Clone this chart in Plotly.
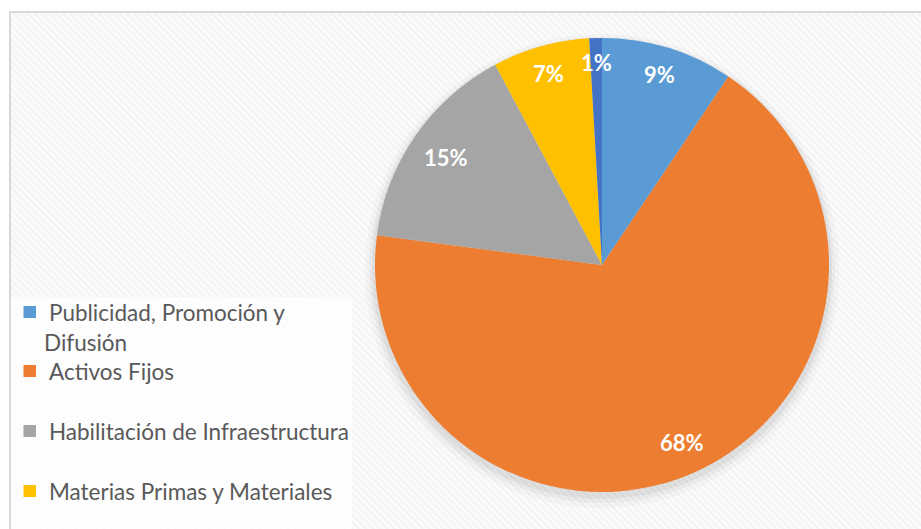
import math
import plotly.graph_objects as go

# ---- data ----
categories = ["Publicidad, Promoción y Difusión", "Activos Fijos",
              "Habilitación de Infraestructura", "Materias Primas y Materiales",
              "Capital de Trabajo"]
values = [9.4, 67.7, 15.1, 6.9, 0.9]
pct_labels = ["9%", "68%", "15%", "7%", "1%"]
legend_labels = ["Publicidad, Promoción y<br>Difusión", "Activos Fijos",
                 "Habilitación de Infraestructura", "Materias Primas y Materiales"]
colors = ["#5B9BD5", "#ED7D31", "#A5A5A5", "#FFC000", "#4472C4"]

W, H = 921, 529
CX, CY, R = 602, 265, 227
FONT = "Lato, 'Open Sans', sans-serif"


def px(x):
    return x / W


def py(y):
    return 1 - y / H


fig = go.Figure()

# patterned chart-area background
fig.add_trace(go.Scatter(
    x=[9, W + 5, W + 5, 9, 9], y=[11, 11, H + 5, H + 5, 11],
    mode="lines", line=dict(width=0), fill="toself",
    fillcolor="#fbfbfb",
    fillpattern=dict(shape="\\", size=5, solidity=0.45,
                     fgcolor="#ececec", bgcolor="#fbfbfb"),
    hoverinfo="skip", showlegend=False))

# soft shadow under the pie
for grow, dy, alpha in [(10, 6, 0.025), (6, 5, 0.035), (3, 4, 0.05)]:
    r = R + grow
    fig.add_trace(go.Pie(
        values=[1], marker=dict(colors=[f"rgba(0,0,0,{alpha})"], line=dict(width=0)),
        textinfo="none", hoverinfo="skip", showlegend=False, sort=False,
        domain=dict(x=[px(CX - r), px(CX + r)],
                    y=[py(CY + dy + r), py(CY + dy - r)])))

fig.add_trace(go.Pie(
    labels=categories, values=values, sort=False, direction="clockwise",
    rotation=0, marker=dict(colors=colors, line=dict(width=0)),
    textinfo="none", showlegend=False,
    domain=dict(x=[px(CX - R), px(CX + R)], y=[py(CY + R), py(CY - R)])))

annotations = []
# percentage labels placed near the outer end of each slice
total = sum(values)
cum = 0.0
for v, t in zip(values, pct_labels):
    mid = (cum + v / 2) / total * 2 * math.pi
    cum += v
    hw = 7.5 * len(t)
    hh = 11
    ext = hw * abs(math.sin(mid)) + hh * abs(math.cos(mid))
    rr = R - ext - 13
    x = CX + rr * math.sin(mid)
    y = CY - rr * math.cos(mid)
    annotations.append(dict(
        x=px(x), y=py(y), xref="paper", yref="paper", text=f"<b>{t}</b>",
        showarrow=False, xanchor="center", yanchor="middle",
        font=dict(family=FONT, size=22, color="white")))

shapes = [
    # chart-area border
    dict(type="rect", xref="paper", yref="paper", x0=px(10), x1=px(W + 10),
         y0=py(H + 10), y1=py(12), line=dict(color="#d9d9d9", width=2),
         fillcolor="rgba(0,0,0,0)", layer="above"),
    # legend box
    dict(type="rect", xref="paper", yref="paper", x0=px(11), x1=px(352),
         y0=py(H + 5), y1=py(297), line=dict(width=0),
         fillcolor="rgba(255,255,255,0.75)", layer="above"),
]

leg_y = [312, 371, 431, 491]
LEG_FONT = dict(family=FONT, size=22.5, color="#595959")
for lab, col, yc in zip(legend_labels, colors, leg_y):
    shapes.append(dict(type="rect", xref="paper", yref="paper",
                       x0=px(23.5), x1=px(36), y0=py(yc + 6), y1=py(yc - 6),
                       fillcolor=col, line=dict(width=0), layer="above"))
    for i, line in enumerate(lab.split("<br>")):
        annotations.append(dict(
            x=px(47 if i == 0 else 42), y=py(yc + 30 * i), xref="paper", yref="paper",
            text=line, showarrow=False, xanchor="left", yanchor="middle",
            align="left", font=LEG_FONT))

fig.update_layout(
    width=W, height=H, margin=dict(l=0, r=0, t=0, b=0),
    paper_bgcolor="white", plot_bgcolor="rgba(0,0,0,0)",
    xaxis=dict(range=[0, W], visible=False, fixedrange=True),
    yaxis=dict(range=[H, 0], visible=False, fixedrange=True),
    showlegend=False, shapes=shapes, annotations=annotations,
    font=dict(family=FONT))

fig.write_html("out.html", config={"displayModeBar": False},
               post_script="document.body.style.margin='0';")
